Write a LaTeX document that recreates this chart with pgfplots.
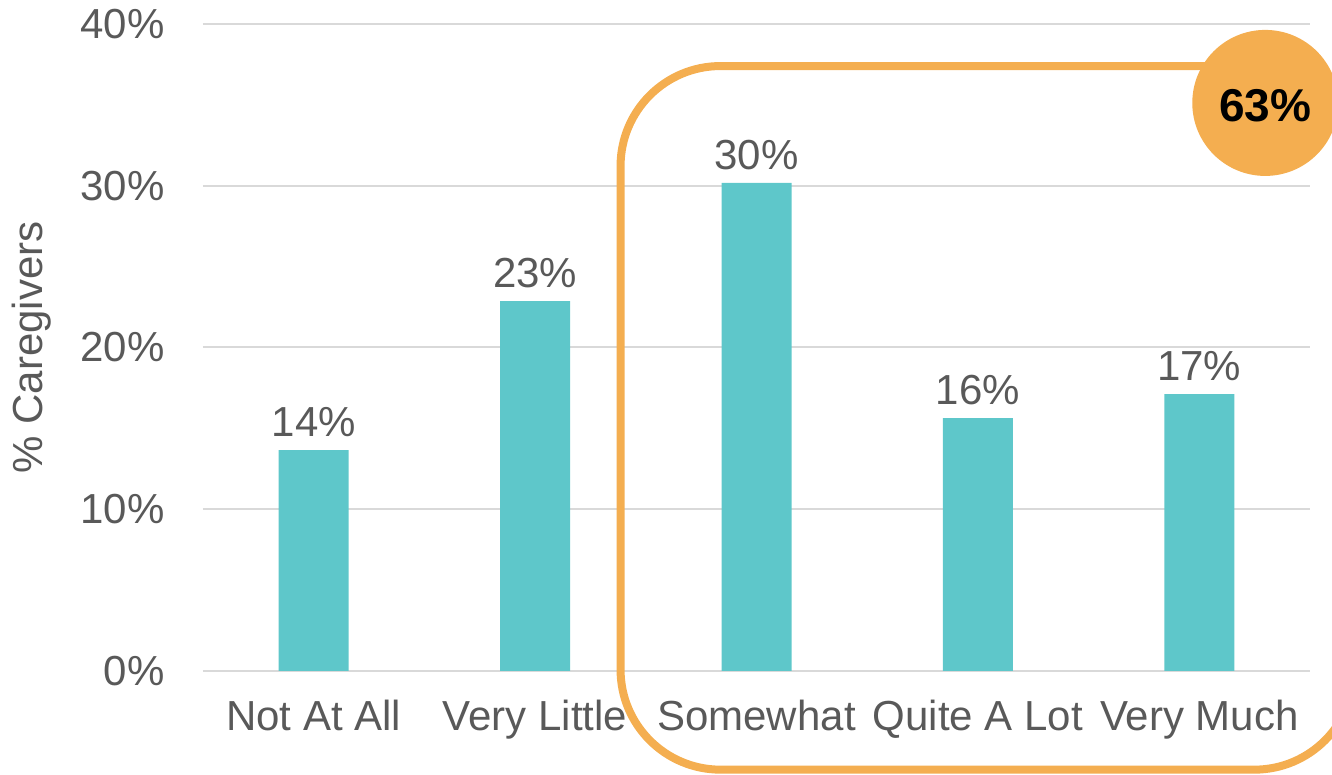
\documentclass[border=0pt]{standalone}
\usepackage{pgfplots}
\pgfplotsset{compat=1.18}
\usepackage{fontspec}
\setmainfont{Liberation Sans}
\definecolor{barc}{HTML}{5EC7CA}
\definecolor{org}{HTML}{F4AE50}
\definecolor{txt}{HTML}{595959}
\definecolor{gridc}{HTML}{D9D9D9}
\begin{document}
\begin{tikzpicture}
\begin{axis}[name=ax, scale only axis, width=553.5pt, height=323.5pt,
  xmin=-0.5, xmax=4.5, ymin=0, ymax=40,
  ytick={0,10,20,30,40},
  yticklabel={\pgfmathprintnumber{\tick}\%},
  /pgf/number format/assume math mode=true,
  xtick={0,1,2,3,4},
  xticklabels={Not At All, Very Little, Somewhat, Quite A Lot, Very Much},
  axis line style={draw=none}, major tick length=0pt,
  ymajorgrids, grid style={gridc, line width=1pt},
  ticklabel style={font=\fontsize{21}{25}\selectfont, text=txt},
  yticklabel style={anchor=east, inner sep=0pt, xshift=-19pt},
  xticklabel style={anchor=north, inner sep=0pt, yshift=-14.5pt},
  ylabel={\% Caregivers},
  ylabel style={font=\fontsize{21}{25}\selectfont, text=txt, at={(rel axis cs:0,0.5)}, anchor=center, yshift=85.5pt, inner sep=0pt},
  clip=false,
  ybar, bar width=35pt,
  point meta=explicit symbolic,
  nodes near coords={\pgfplotspointmeta\%},
  nodes near coords style={font=\fontsize{21}{25}\selectfont, text=txt, anchor=south, inner sep=0pt, yshift=6.5pt},
]
\addplot[fill=barc, draw=none] coordinates {
  (0,13.66) [14]
  (1,22.87) [23]
  (2,30.17) [30]
  (3,15.64) [16]
  (4,17.12) [17]
};
\draw[org, line width=4pt, rounded corners=50pt] (axis cs:1.386,-6.1) rectangle (axis cs:4.70,37.4);
\fill[org] (axis cs:4.298,35.12) circle[radius=36.5pt];
\node[font=\bfseries\fontsize{23}{27}\selectfont, text=black] at (axis cs:4.298,34.95) {63\%};
\end{axis}
\pgfresetboundingbox
\path[use as bounding box] ([shift={(-101.5pt,-52pt)}]ax.south west) rectangle ([shift={(11pt,12pt)}]ax.north east);
\end{tikzpicture}
\end{document}
